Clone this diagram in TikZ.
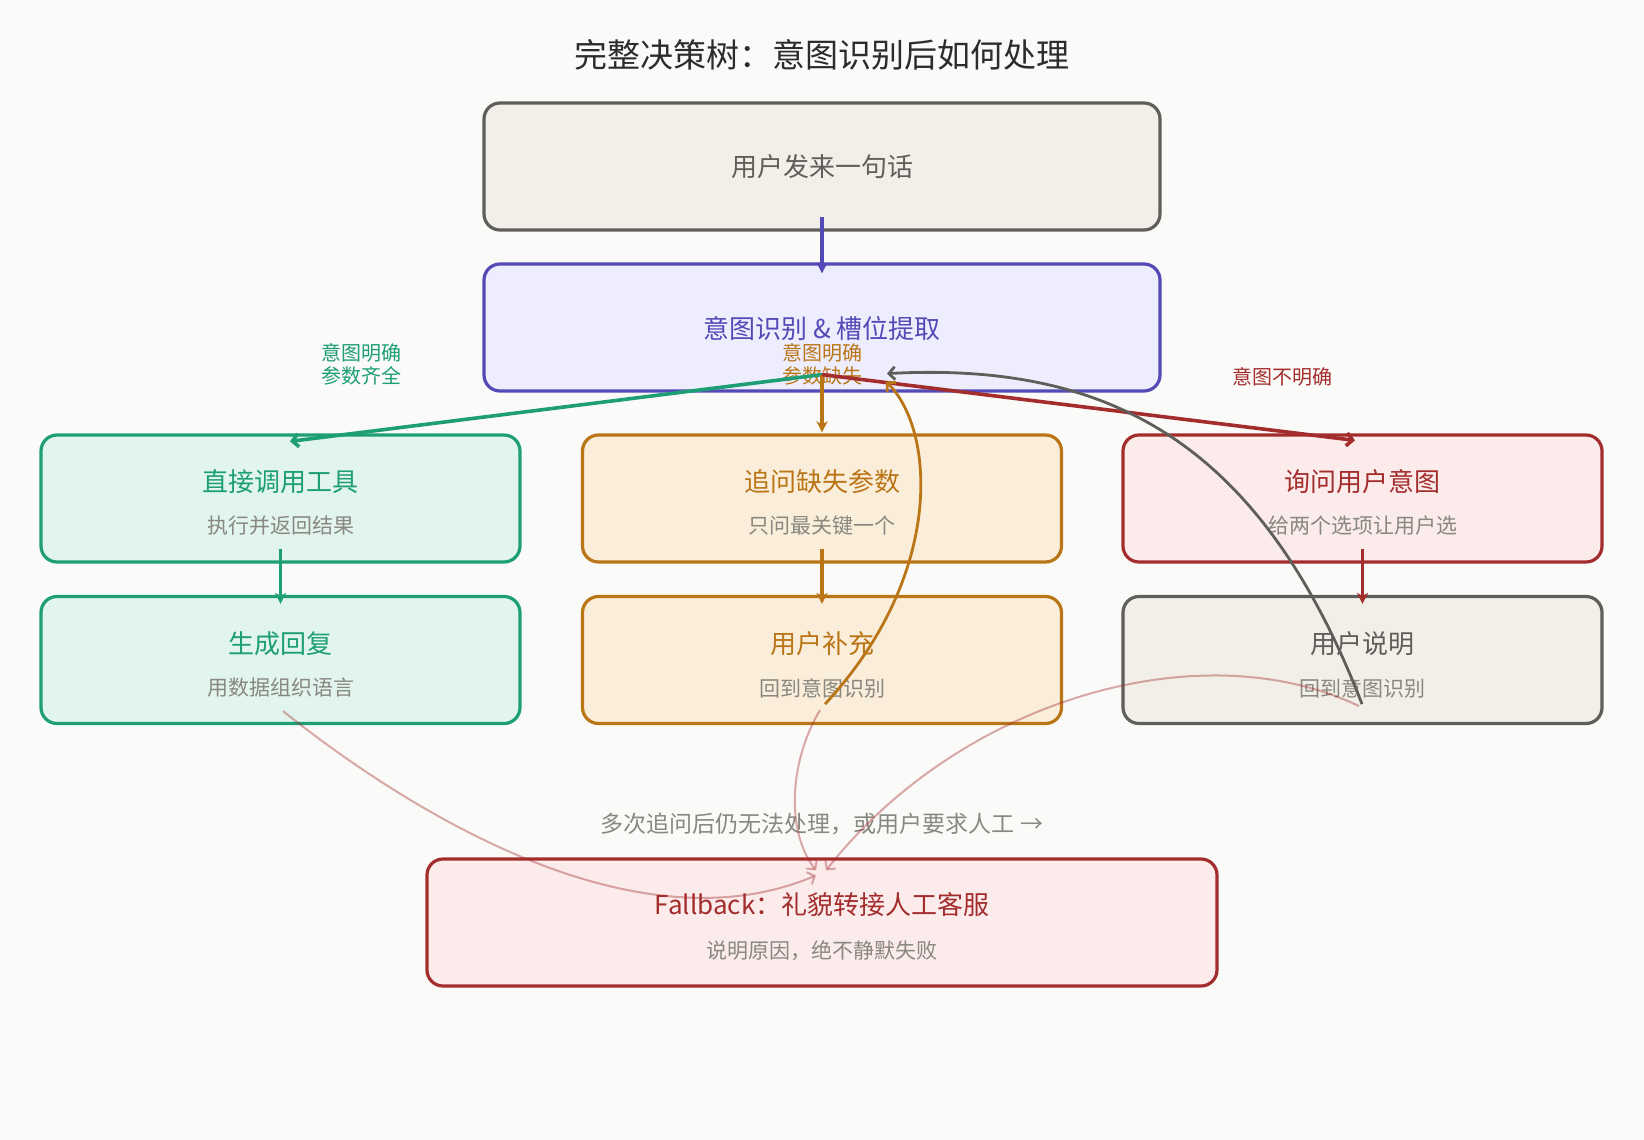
\documentclass[tikz,border=0pt]{standalone}
\usepackage{fontspec}
\setmainfont{Noto Sans CJK SC}
\usetikzlibrary{arrows.meta,calc}

\definecolor{bg}{HTML}{FAFAF8}
\definecolor{greyB}{HTML}{5F5E5A}
\definecolor{greyF}{HTML}{F1EFE8}
\definecolor{purB}{HTML}{534AB7}
\definecolor{purF}{HTML}{EEEDFE}
\definecolor{grnB}{HTML}{1D9E75}
\definecolor{grnF}{HTML}{E1F5EE}
\definecolor{orgB}{HTML}{BA7517}
\definecolor{orgF}{HTML}{FAEEDA}
\definecolor{redB}{HTML}{A32D2D}
\definecolor{redF}{HTML}{FCEBEB}
\definecolor{subT}{HTML}{888780}
\definecolor{titleT}{HTML}{2C2C2A}

\begin{document}
\begin{tikzpicture}[x=1pt,y=-1pt,
  box/.style={draw, rounded corners=16pt, line width=3.2pt, minimum height=127pt, inner sep=0pt},
  bigbox/.style={box, minimum width=676pt},
  rowbox/.style={box, minimum width=479pt},
  fbbox/.style={box, minimum width=790pt},
  ttl/.style={font=\fontsize{26}{30}\selectfont, inner sep=0pt},
  subt/.style={font=\fontsize{21}{25}\selectfont, text=subT, inner sep=0pt},
  lbl/.style={font=\fontsize{20}{23}\selectfont, align=center, inner sep=0pt},
  conn/.style={line width=3.6pt, -{Straight Barb[length=6pt,width=13pt]}},
  vconn/.style={line width=3.8pt, -{Stealth[length=11pt,width=11pt,inset=3pt]}},
  back/.style={line width=2.8pt, -{Straight Barb[length=6pt,width=13pt]}},
  fb/.style={line width=2pt, redB, draw opacity=0.4, -{Straight Barb[length=6pt,width=13pt]}}
]
\useasboundingbox (0,0) rectangle (1644,1140);
\fill[bg] (0,0) rectangle (1644,1140);

\node[font=\fontsize{33}{38}\selectfont, text=titleT, inner sep=0pt] (title) at (822,55) {完整决策树：意图识别后如何处理};

% boxes
\node[bigbox, draw=greyB, fill=greyF] (start) at (822,166.5) {};
\node[bigbox, draw=purB, fill=purF] (intent) at (822,327.5) {};
\node[rowbox, draw=grnB, fill=grnF] (direct) at (280.5,498.5) {};
\node[rowbox, draw=orgB, fill=orgF] (follow) at (822,498.5) {};
\node[rowbox, draw=redB, fill=redF] (ask) at (1362.5,498.5) {};
\node[rowbox, draw=grnB, fill=grnF] (reply) at (280.5,660) {};
\node[rowbox, draw=orgB, fill=orgF] (supp) at (822,660) {};
\node[rowbox, draw=greyB, fill=greyF] (explain) at (1362.5,660) {};
\node[fbbox, draw=redB, fill=redF] (fallback) at (822,922.5) {};

% texts
\node[ttl, text=greyB] (t1) at (822,167) {用户发来一句话};
\node[ttl, text=purB] (t2) at (822,329) {意图识别 \& 槽位提取};
\node[ttl, text=grnB] (t3) at (280.5,482) {直接调用工具};
\node[subt] (s3) at (280.5,526) {执行并返回结果};
\node[ttl, text=orgB] (t4) at (822,482) {追问缺失参数};
\node[subt] (s4) at (822,526) {只问最关键一个};
\node[ttl, text=redB] (t5) at (1362.5,482) {询问用户意图};
\node[subt] (s5) at (1362.5,526) {给两个选项让用户选};
\node[ttl, text=grnB] (t6) at (280.5,644) {生成回复};
\node[subt] (s6) at (280.5,688) {用数据组织语言};
\node[ttl, text=orgB] (t7) at (822,644) {用户补充};
\node[subt] (s7) at (822,688) {回到意图识别};
\node[ttl, text=greyB] (t8) at (1362.5,644) {用户说明};
\node[subt] (s8) at (1362.5,688) {回到意图识别};
\node[ttl, text=redB] (t9) at (822,905) {Fallback：礼貌转接人工客服};
\node[subt] (s9) at (822,951) {说明原因，绝不静默失败};

% edge labels
\node[lbl, text=grnB] (lg) at (361,364.5) {意图明确\\参数齐全};
\node[lbl, text=orgB] (lo) at (822,364.5) {意图明确\\参数缺失};
\node[lbl, text=redB] (lr) at (1282,377) {意图不明确};
\node[font=\fontsize{23}{27}\selectfont, text=subT, inner sep=0pt] (note) at (822,824) {多次追问后仍无法处理，或用户要求人工 →};

% connectors
\draw[vconn, purB] ($(start.south)+(0,-15)$) -- ($(intent.north)+(0,11)$);
\coordinate (split) at ($(intent.south)+(0,-18)$);
\draw[conn, grnB] (split) -- ($(direct.north)+(9.5,8)$);
\draw[vconn, orgB] (split) -- ($(follow.north)+(0,-1)$);
\draw[conn, redB] (split) -- ($(ask.north)+(-7.5,7)$);
\draw[vconn, grnB] ($(direct.south)+(0,-15)$) -- ($(reply.north)+(0,9)$);
\draw[vconn, orgB] ($(follow.south)+(0,-15)$) -- ($(supp.north)+(0,9)$);
\draw[vconn, redB] ($(ask.south)+(0,-15)$) -- ($(explain.north)+(0,9)$);

% loops back
\draw[back, orgB] ($(supp.south)+(3,-21)$) .. controls (945,575) and (935,430) .. ($(intent.south)+(64,-11)$);
\draw[back, greyB] ($(explain.south)+(-0.5,-21)$) .. controls (1260,440) and (1107,362) .. ($(intent.south)+(65,-19)$);

% fallback
\draw[fb] ($(reply.south)+(2.5,-14)$) .. controls (420,820) and (640,950) .. ($(fallback.north)+(-6,18)$);
\draw[fb] ($(supp.south)+(-2,-15)$) .. controls (790,760) and (785,830) .. ($(fallback.north)+(-6,13)$);
\draw[fb] ($(explain.south)+(-3.5,-19)$) .. controls (1200,630) and (960,700) .. ($(fallback.north)+(4,13)$);
\end{tikzpicture}
\end{document}
